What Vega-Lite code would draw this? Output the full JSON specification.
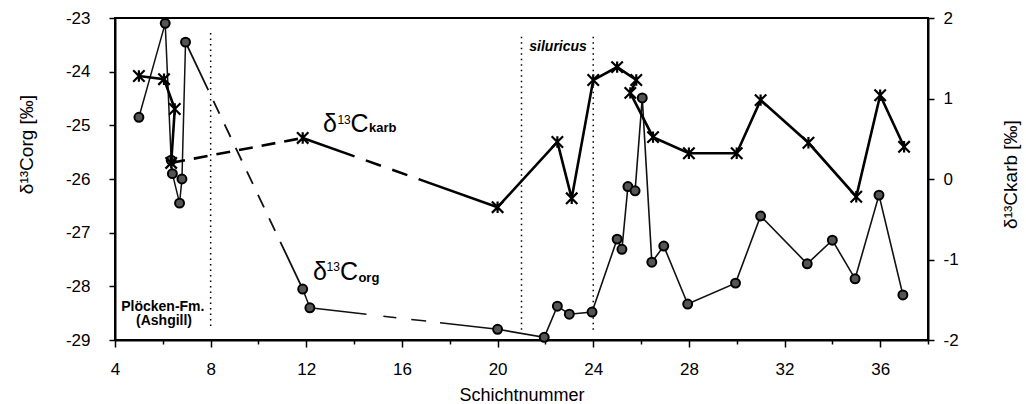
{
  "$schema": "https://vega.github.io/schema/vega-lite/v6.json",
  "width": 813,
  "height": 322,
  "autosize": "none",
  "padding": {"left": 115, "top": 18, "right": 98, "bottom": 64},
  "background": "white",
  "config": {
    "view": {"stroke": "black", "strokeWidth": 2},
    "font": "Liberation Sans",
    "axis": {
      "grid": false,
      "domainColor": "black",
      "domainWidth": 2,
      "tickColor": "black",
      "tickWidth": 1.5,
      "labelColor": "black",
      "labelFont": "Liberation Sans",
      "labelFontSize": 17,
      "titleFont": "Liberation Sans",
      "titleFontSize": 19,
      "titleFontWeight": "normal",
      "titleColor": "black"
    }
  },
  "datasets": {
    "corg": [
      {"i": 0, "x": 5.0, "y": -24.85},
      {"i": 1, "x": 6.1, "y": -23.1},
      {"i": 2, "x": 6.35, "y": -25.65},
      {"i": 3, "x": 6.4, "y": -25.9},
      {"i": 4, "x": 6.7, "y": -26.45},
      {"i": 5, "x": 6.8, "y": -26.0},
      {"i": 6, "x": 6.95, "y": -23.45},
      {"i": 7, "x": 11.85, "y": -28.05},
      {"i": 8, "x": 12.15, "y": -28.4},
      {"i": 9, "x": 20.0, "y": -28.8},
      {"i": 10, "x": 21.95, "y": -28.95},
      {"i": 11, "x": 22.5, "y": -28.37},
      {"i": 12, "x": 23.0, "y": -28.52},
      {"i": 13, "x": 23.95, "y": -28.48},
      {"i": 14, "x": 25.0, "y": -27.12},
      {"i": 15, "x": 25.2, "y": -27.31},
      {"i": 16, "x": 25.45, "y": -26.14},
      {"i": 17, "x": 25.75, "y": -26.22},
      {"i": 18, "x": 26.05, "y": -24.49},
      {"i": 19, "x": 26.45, "y": -27.55},
      {"i": 20, "x": 26.95, "y": -27.25},
      {"i": 21, "x": 27.95, "y": -28.33},
      {"i": 22, "x": 29.95, "y": -27.94},
      {"i": 23, "x": 31.0, "y": -26.69},
      {"i": 24, "x": 32.95, "y": -27.58},
      {"i": 25, "x": 34.0, "y": -27.14},
      {"i": 26, "x": 34.95, "y": -27.86},
      {"i": 27, "x": 35.95, "y": -26.3},
      {"i": 28, "x": 36.95, "y": -28.16}
    ],
    "karb": [
      {"i": 0, "x": 5.0, "k": 1.28},
      {"i": 1, "x": 6.05, "k": 1.24},
      {"i": 2, "x": 6.5, "k": 0.87},
      {"i": 3, "x": 6.35, "k": 0.2},
      {"i": 4, "x": 11.85, "k": 0.51},
      {"i": 5, "x": 20.0, "k": -0.35},
      {"i": 6, "x": 22.5, "k": 0.46},
      {"i": 7, "x": 23.1, "k": -0.24},
      {"i": 8, "x": 24.0, "k": 1.23},
      {"i": 9, "x": 25.0, "k": 1.39},
      {"i": 10, "x": 25.8, "k": 1.23},
      {"i": 11, "x": 25.55, "k": 1.07},
      {"i": 12, "x": 26.5, "k": 0.52},
      {"i": 13, "x": 28.0, "k": 0.32},
      {"i": 14, "x": 30.0, "k": 0.32},
      {"i": 15, "x": 31.0, "k": 0.98},
      {"i": 16, "x": 33.0, "k": 0.45},
      {"i": 17, "x": 35.0, "k": -0.22},
      {"i": 18, "x": 36.0, "k": 1.04},
      {"i": 19, "x": 37.0, "k": 0.4}
    ],
    "rules": [
      {"x": 8.0, "y": -23.28, "y2": -28.78},
      {"x": 21.0, "y": -23.35, "y2": -28.85},
      {"x": 24.0, "y": -23.35, "y2": -28.85}
    ],
    "labels": [
      {"t": "δ", "x": 12.7, "y": -25.12, "r": "big"},
      {"t": "13", "x": 13.3, "y": -24.81, "r": "sup"},
      {"t": "C", "x": 13.85, "y": -25.12, "r": "big"},
      {"t": "karb", "x": 14.62, "y": -25.12, "r": "sub"},
      {"t": "δ", "x": 12.28, "y": -27.88, "r": "big"},
      {"t": "13", "x": 12.85, "y": -27.55, "r": "sup"},
      {"t": "C", "x": 13.41, "y": -27.88, "r": "big"},
      {"t": "org", "x": 14.18, "y": -27.92, "r": "sub"},
      {"t": "Plöcken-Fm.", "x": 6.0, "y": -28.38, "r": "note"},
      {"t": "(Ashgill)", "x": 6.05, "y": -28.65, "r": "note"},
      {"t": "siluricus", "x": 22.53, "y": -23.54, "r": "ital"}
    ]
  },
  "layer": [
    {
      "layer": [
        {
          "data": {"name": "corg"},
          "transform": [{"filter": "datum.i <= 6"}],
          "mark": {"type": "line", "stroke": "#111", "strokeWidth": 1.5},
          "encoding": {
            "x": {
              "field": "x", "type": "quantitative",
              "scale": {"domain": [4, 38], "nice": false, "zero": false},
              "axis": {
                "title": "Schichtnummer",
                "titleFontSize": 18,
                "titlePadding": 9,
                "values": [4,5,6,7,8,9,10,11,12,13,14,15,16,17,18,19,20,21,22,23,24,25,26,27,28,29,30,31,32,33,34,35,36,37,38],
                "labelExpr": "datum.value % 4 === 0 ? datum.label : ''",
                "tickSize": {"condition": {"test": "datum.value % 4 === 0", "value": 7}, "value": 4},
                "labelPadding": 14,
                "labelFlush": false,
                "labelOverlap": false
              }
            },
            "y": {
              "field": "y", "type": "quantitative",
              "scale": {"domain": [-29, -23], "nice": false, "zero": false},
              "axis": {
                "title": "δ¹³Corg [‰]",
                "values": [-29, -28, -27, -26, -25, -24, -23],
                "format": "d",
                "labelExpr": "replace(datum.label, '−', '-')",
                "tickSize": 6,
                "labelPadding": 19,
                "titleX": -89,
                "titleY": 126,
                "titleBaseline": "middle",
                "titleAngle": -90
              }
            },
            "order": {"field": "i"}
          }
        },
        {
          "data": {"name": "rules"},
          "mark": {"type": "rule", "stroke": "black", "strokeWidth": 1.5, "strokeDash": [1.5, 4]},
          "encoding": {
            "x": {"field": "x", "type": "quantitative"},
            "y": {"field": "y", "type": "quantitative"},
            "y2": {"field": "y2"}
          }
        },
        {
          "data": {"name": "corg"},
          "transform": [{"filter": "datum.i >= 6 && datum.i <= 7"}],
          "mark": {"type": "line", "stroke": "#111", "strokeWidth": 1.8, "strokeDash": [53, 12, 14, 12, 14, 12, 14, 12, 14, 12, 14, 12, 14, 12, 90]},
          "encoding": {
            "x": {"field": "x", "type": "quantitative"},
            "y": {"field": "y", "type": "quantitative"},
            "order": {"field": "i"}
          }
        },
        {
          "data": {"name": "corg"},
          "transform": [{"filter": "datum.i >= 7 && datum.i <= 8"}],
          "mark": {"type": "line", "stroke": "#111", "strokeWidth": 1.5},
          "encoding": {
            "x": {"field": "x", "type": "quantitative"},
            "y": {"field": "y", "type": "quantitative"},
            "order": {"field": "i"}
          }
        },
        {
          "data": {"name": "corg"},
          "transform": [{"filter": "datum.i >= 8 && datum.i <= 9"}],
          "mark": {"type": "line", "stroke": "#111", "strokeWidth": 1.5, "strokeDash": [57, 17, 13, 15, 15, 14, 200]},
          "encoding": {
            "x": {"field": "x", "type": "quantitative"},
            "y": {"field": "y", "type": "quantitative"},
            "order": {"field": "i"}
          }
        },
        {
          "data": {"name": "corg"},
          "transform": [{"filter": "datum.i >= 9"}],
          "mark": {"type": "line", "stroke": "#111", "strokeWidth": 1.6},
          "encoding": {
            "x": {"field": "x", "type": "quantitative"},
            "y": {"field": "y", "type": "quantitative"},
            "order": {"field": "i"}
          }
        },
        {
          "data": {"name": "corg"},
          "mark": {"type": "point", "shape": "circle", "filled": true, "fill": "#555", "stroke": "black", "strokeWidth": 2, "size": 80, "opacity": 1},
          "encoding": {
            "x": {"field": "x", "type": "quantitative"},
            "y": {"field": "y", "type": "quantitative"}
          }
        },
        {
          "data": {"name": "labels"},
          "transform": [{"filter": "datum.r === 'big'"}],
          "mark": {"type": "text", "align": "left", "baseline": "alphabetic", "fontSize": 25, "font": "Liberation Sans", "fill": "black"},
          "encoding": {
            "x": {"field": "x", "type": "quantitative"},
            "y": {"field": "y", "type": "quantitative"},
            "text": {"field": "t"}
          }
        },
        {
          "data": {"name": "labels"},
          "transform": [{"filter": "datum.r === 'sup'"}],
          "mark": {"type": "text", "align": "left", "baseline": "top", "fontSize": 12, "font": "Liberation Sans", "fill": "black"},
          "encoding": {
            "x": {"field": "x", "type": "quantitative"},
            "y": {"field": "y", "type": "quantitative"},
            "text": {"field": "t"}
          }
        },
        {
          "data": {"name": "labels"},
          "transform": [{"filter": "datum.r === 'sub'"}],
          "mark": {"type": "text", "align": "left", "baseline": "alphabetic", "fontSize": 13, "fontWeight": "bold", "font": "Liberation Sans", "fill": "black"},
          "encoding": {
            "x": {"field": "x", "type": "quantitative"},
            "y": {"field": "y", "type": "quantitative"},
            "text": {"field": "t"}
          }
        },
        {
          "data": {"name": "labels"},
          "transform": [{"filter": "datum.r === 'note'"}],
          "mark": {"type": "text", "align": "center", "baseline": "middle", "fontSize": 14, "fontWeight": "bold", "font": "Liberation Sans", "fill": "black"},
          "encoding": {
            "x": {"field": "x", "type": "quantitative"},
            "y": {"field": "y", "type": "quantitative"},
            "text": {"field": "t"}
          }
        },
        {
          "data": {"name": "labels"},
          "transform": [{"filter": "datum.r === 'ital'"}],
          "mark": {"type": "text", "align": "center", "baseline": "middle", "fontSize": 14, "fontWeight": "bold", "fontStyle": "italic", "font": "Liberation Sans", "fill": "black"},
          "encoding": {
            "x": {"field": "x", "type": "quantitative"},
            "y": {"field": "y", "type": "quantitative"},
            "text": {"field": "t"}
          }
        }
      ]
    },
    {
      "layer": [
        {
          "data": {"name": "karb"},
          "transform": [{"filter": "datum.i <= 3"}],
          "mark": {"type": "line", "stroke": "black", "strokeWidth": 2.6},
          "encoding": {
            "x": {"field": "x", "type": "quantitative"},
            "y": {
              "field": "k", "type": "quantitative",
              "scale": {"domain": [-2, 2], "nice": false, "zero": false},
              "axis": {
                "orient": "right",
                "title": "δ¹³Ckarb [‰]",
                "values": [-2, -1.5, -1, -0.5, 0, 0.5, 1, 1.5, 2],
                "format": "d",
                "labelExpr": "datum.value % 1 === 0 ? replace(datum.label, '−', '-') : ''",
                "tickSize": 6,
                "labelPadding": 9,
                "titleX": 82,
                "titleY": 156,
                "titleBaseline": "middle",
                "titleAngle": -90
              }
            },
            "order": {"field": "i"}
          }
        },
        {
          "data": {"name": "karb"},
          "transform": [{"filter": "datum.i >= 3 && datum.i <= 4"}],
          "mark": {"type": "line", "stroke": "black", "strokeWidth": 2.6, "strokeDash": [14, 9]},
          "encoding": {
            "x": {"field": "x", "type": "quantitative"},
            "y": {"field": "k", "type": "quantitative"},
            "order": {"field": "i"}
          }
        },
        {
          "data": {"name": "karb"},
          "transform": [{"filter": "datum.i >= 4 && datum.i <= 5"}],
          "mark": {"type": "line", "stroke": "black", "strokeWidth": 2.6, "strokeDash": [55, 12, 16, 12, 16, 12, 200]},
          "encoding": {
            "x": {"field": "x", "type": "quantitative"},
            "y": {"field": "k", "type": "quantitative"},
            "order": {"field": "i"}
          }
        },
        {
          "data": {"name": "karb"},
          "transform": [{"filter": "datum.i >= 5"}],
          "mark": {"type": "line", "stroke": "black", "strokeWidth": 2.6},
          "encoding": {
            "x": {"field": "x", "type": "quantitative"},
            "y": {"field": "k", "type": "quantitative"},
            "order": {"field": "i"}
          }
        },
        {
          "data": {"name": "karb"},
          "mark": {"type": "point", "shape": "M-1,-1L1,1M-1,1L1,-1M0,-1L0,1", "filled": false, "stroke": "black", "strokeWidth": 2.2, "size": 130, "opacity": 1},
          "encoding": {
            "x": {"field": "x", "type": "quantitative"},
            "y": {"field": "k", "type": "quantitative"}
          }
        }
      ]
    }
  ],
  "resolve": {"scale": {"y": "independent"}, "axis": {"y": "independent"}}
}
